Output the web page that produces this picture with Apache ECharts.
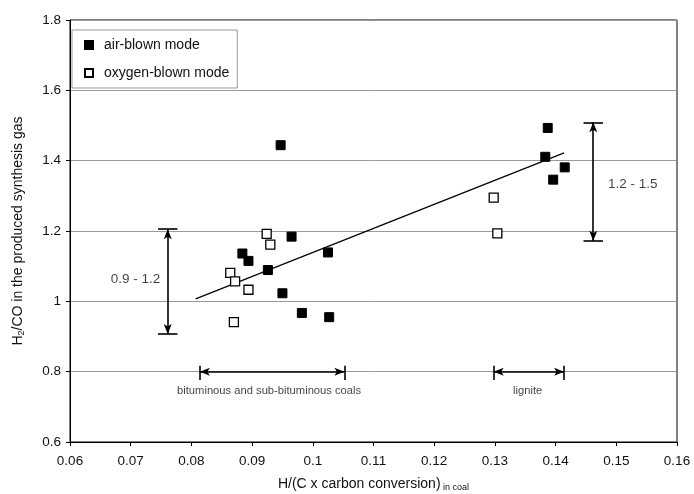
<!DOCTYPE html>
<html><head><meta charset="utf-8">
<script src="https://cdn.jsdelivr.net/npm/echarts@6/dist/echarts.min.js"></script>
<style>html,body{margin:0;padding:0;background:#fff}#c{width:694px;height:494px}</style>
</head><body><div id="c"></div>
<script>
const airBlown = [
  [0.0947,1.444],[0.1387,1.493],[0.1383,1.411],[0.1415,1.381],[0.1396,1.346],
  [0.0965,1.184],[0.1025,1.139],[0.0884,1.136],[0.0894,1.115],[0.0926,1.089],
  [0.0950,1.023],[0.0982,0.967],[0.1027,0.955]
];
const oxygenBlown = [
  [0.1298,1.295],[0.1304,1.193],[0.0924,1.192],[0.0930,1.161],
  [0.0864,1.081],[0.0872,1.057],[0.0894,1.033],[0.0870,0.941]
];
const trendLine = [[0.0807,1.007],[0.1414,1.422]];
const xTicks = [0.06,0.07,0.08,0.09,0.1,0.11,0.12,0.13,0.14,0.15,0.16];
const yTicks = [0.6,0.8,1,1.2,1.4,1.6,1.8];
const leftRange = [0.907,1.205];   // 0.9 - 1.2
const rightRange = [1.172,1.509];  // 1.2 - 1.5
const bitRange = [0.0814,0.1052];
const ligRange = [0.1298,0.1414];
const labels = [
  {text:'0.9 - 1.2', x:0.0708, y:1.064, size:13.5},
  {text:'1.2 - 1.5', x:0.1527, y:1.332, size:13.5},
  {text:'bituminous and sub-bituminous coals', x:0.0928, y:0.746, size:11.2},
  {text:'lignite', x:0.1354, y:0.746, size:11.2}
];

const font = 'Liberation Sans, Arial, sans-serif';
const chart = echarts.init(document.getElementById('c'), null, {renderer:'canvas'});
const vx1 = 0.0761, vx2 = 0.1462, capW = 0.0016, capH = 0.024;
const arrowLine = (a,b) => [{coord:a, symbol:'arrow'},{coord:b, symbol:'arrow'}];
const plain = (a,b) => [{coord:a, symbol:'none'},{coord:b, symbol:'none'}];

chart.setOption({
  animation:false,
  grid:{left:70, right:17, top:20, bottom:52, show:true, borderColor:'#000', borderWidth:1,
        outerBoundsMode:'none', containLabel:false},
  legend:{
    orient:'vertical', left:72, top:30, width:150,
    padding:[8,8,8,12], itemGap:14, itemWidth:8, itemHeight:8,
    borderColor:'#999', borderWidth:1, backgroundColor:'#fff',
    textStyle:{fontFamily:font, fontSize:14, color:'#111', padding:[0,0,0,6]},
    data:[{name:'air-blown mode', icon:'rect'},{name:'oxygen-blown mode', icon:'rect'}]
  },
  xAxis:{
    type:'value', min:0.06, max:0.16, interval:0.01,
    name:'H/(C x carbon conversion){s| in coal}', nameLocation:'middle', nameGap:34,
    nameTextStyle:{fontFamily:font, fontSize:14, color:'#111', rich:{s:{fontSize:9, fontFamily:font, color:'#111', padding:[7,0,0,0]}}},
    axisLine:{lineStyle:{color:'#000', width:1}},
    axisTick:{show:true, length:4, lineStyle:{color:'#000'}},
    axisLabel:{fontFamily:font, fontSize:13.5, color:'#111', margin:12,
      formatter:v => { const t = xTicks.find(k => Math.abs(k-v)<1e-9); return t===undefined ? '' : String(t); }},
    splitLine:{show:false}
  },
  yAxis:{
    type:'value', min:0.6, max:1.8, interval:0.2,
    name:'H{s|2}/CO in the produced synthesis gas', nameLocation:'middle', nameGap:44, nameRotate:90,
    nameTextStyle:{fontFamily:font, fontSize:14, color:'#111', rich:{s:{fontSize:9, fontFamily:font, color:'#111', padding:[7,0,0,0]}}},
    axisLine:{show:true, lineStyle:{color:'#000', width:1}},
    axisTick:{show:true, length:4, lineStyle:{color:'#000'}},
    axisLabel:{fontFamily:font, fontSize:13.5, color:'#111', margin:9,
      formatter:v => { const t = yTicks.find(k => Math.abs(k-v)<1e-9); return t===undefined ? '' : String(t); }},
    splitLine:{show:true, lineStyle:{color:'#999', width:1}}
  },
  series:[
    {name:'trend', type:'line', data:trendLine, showSymbol:false, symbol:'none',
     lineStyle:{color:'#000', width:1.2}, z:3, silent:true},
    {name:'air-blown mode', type:'scatter', data:airBlown, symbol:'rect', symbolSize:9,
     itemStyle:{color:'#000', borderColor:'#000', borderWidth:1, opacity:1}, z:5},
    {name:'oxygen-blown mode', type:'scatter', data:oxygenBlown, symbol:'rect', symbolSize:9,
     itemStyle:{color:'#fff', borderColor:'#000', borderWidth:1.3, opacity:1}, z:5},
    {name:'annot', type:'scatter', data:[], silent:true,
     markLine:{
       silent:true, symbolSize:[6,10], label:{show:false},
       lineStyle:{color:'#000', width:1.6, type:'solid'},
       data:[
         arrowLine([vx1,leftRange[1]],[vx1,leftRange[0]]),
         plain([vx1-capW,leftRange[1]],[vx1+capW,leftRange[1]]),
         plain([vx1-capW,leftRange[0]],[vx1+capW,leftRange[0]]),
         arrowLine([vx2,rightRange[1]],[vx2,rightRange[0]]),
         plain([vx2-capW,rightRange[1]],[vx2+capW,rightRange[1]]),
         plain([vx2-capW,rightRange[0]],[vx2+capW,rightRange[0]]),
         arrowLine([bitRange[0],0.8],[bitRange[1],0.8]),
         plain([bitRange[0],0.8+capH/2+0.005],[bitRange[0],0.8-capH]),
         plain([bitRange[1],0.8+capH/2+0.005],[bitRange[1],0.8-capH]),
         arrowLine([ligRange[0],0.8],[ligRange[1],0.8]),
         plain([ligRange[0],0.8+capH/2+0.005],[ligRange[0],0.8-capH]),
         plain([ligRange[1],0.8+capH/2+0.005],[ligRange[1],0.8-capH])
       ]
     }},
    {name:'labels', type:'scatter', symbol:'circle', symbolSize:1, silent:true, z:6,
     itemStyle:{color:'rgba(0,0,0,0)'},
     data:labels.map(l => ({value:[l.x,l.y], label:{show:true, formatter:l.text, position:'inside',
       fontFamily:font, fontSize:l.size, color:'#111'}}))}
  ]
});
</script></body></html>
